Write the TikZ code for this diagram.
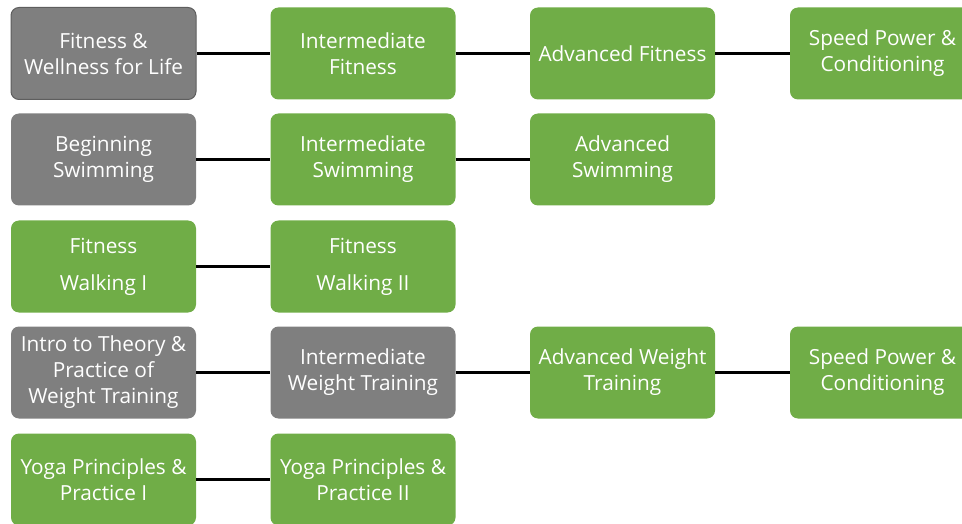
\documentclass[tikz,border=0pt]{standalone}
\usepackage{fontspec}
\setmainfont{Open Sans}
\definecolor{cgreen}{HTML}{70AD47}
\definecolor{cgray}{HTML}{7F7F7F}
\definecolor{cgrayedge}{HTML}{5E5E5E}
\begin{document}
\begin{tikzpicture}[x=1pt,y=-1pt,
  box/.style={rounded corners=8pt, minimum width=185pt, minimum height=92pt, inner sep=0pt,
    text=white, align=center, font=\fontsize{20.8}{26}\selectfont},
  gbox/.style={box, fill=cgreen},
  ybox/.style={box, fill=cgray},
  link/.style={draw=black, line width=2.2pt}]
\useasboundingbox (0,0) rectangle (962,524);
\clip (0,0) rectangle (962,524);
% row 1
\node[ybox, draw=cgrayedge, line width=1pt] (a1) at (103.5,53.5) {Fitness \&\\Wellness for Life};
\node[gbox] (a2) at (363,53.5) {Intermediate\\Fitness};
\node[gbox] (a3) at (622.5,53.5) {Advanced Fitness};
\node[gbox] (a4) at (882.5,53.5) {Speed Power \&\\Conditioning};
% row 2
\node[ybox] (b1) at (103.5,159.5) {Beginning\\Swimming};
\node[gbox] (b2) at (363,159.5) {Intermediate\\Swimming};
\node[gbox] (b3) at (622.5,159.5) {Advanced\\Swimming};
% row 3
\node[gbox] (c1) at (103.5,266.5) {Fitness\\[11pt]Walking I};
\node[gbox] (c2) at (363,266.5) {Fitness\\[11pt]Walking II};
% row 4
\node[ybox] (d1) at (103.5,372.5) {Intro to Theory \&\\Practice of\\Weight Training};
\node[ybox] (d2) at (363,372.5) {Intermediate\\Weight Training};
\node[gbox] (d3) at (622.5,372.5) {Advanced Weight\\Training};
\node[gbox] (d4) at (882.5,372.5) {Speed Power \&\\Conditioning};
% row 5
\node[gbox] (e1) at (103.5,479.5) {Yoga Principles \&\\Practice I};
\node[gbox] (e2) at (363,479.5) {Yoga Principles \&\\Practice II};
% links
\draw[link] (a1) -- (a2);
\draw[link] (a2) -- (a3);
\draw[link] (a3) -- (a4);
\draw[link] (b1) -- (b2);
\draw[link] (b2) -- (b3);
\draw[link] (c1) -- (c2);
\draw[link] (d1) -- (d2);
\draw[link] (d2) -- (d3);
\draw[link] (d3) -- (d4);
\draw[link] (e1) -- (e2);
\end{tikzpicture}
\end{document}
